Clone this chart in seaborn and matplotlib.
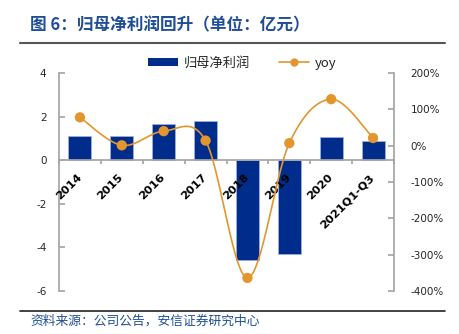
import numpy as np
import pandas as pd
import matplotlib
matplotlib.use("Agg")
import matplotlib.pyplot as plt
import matplotlib.transforms as mtransforms
from matplotlib.lines import Line2D
from matplotlib.patches import Patch
import seaborn as sns

# ---- data ----
categories = ["2014", "2015", "2016", "2017", "2018", "2019", "2020", "2021Q1-Q3"]
profit = [1.12, 1.12, 1.64, 1.80, -4.56, -4.30, 1.08, 0.90]      # 亿元
yoy = [78, 1, 40, 14, -364, 7, 128, 21]                           # %
left_ticks = [-6, -4, -2, 0, 2, 4]
right_ticks = [-400, -300, -200, -100, 0, 100, 200]

title = "图 6：归母净利润回升（单位：亿元）"
source = "资料来源：公司公告，安信证券研究中心"
bar_label = "归母净利润"
line_label = "yoy"

BAR = "#002D8C"
LINE = "#E3962E"
BLUE_TXT = "#1F4E96"
SPINE = "#A6A6A6"

sns.set_theme(style="white")
plt.rcParams["font.family"] = ["Noto Sans CJK SC", "DejaVu Sans"]

fig = plt.figure(figsize=(4.6, 3.34), dpi=100)
ax = fig.add_axes([59 / 460, 1 - 291 / 334, (394 - 59) / 460, (291 - 73) / 334])
ax.set_facecolor("none")

df = pd.DataFrame({"cat": categories, "profit": profit})
sns.barplot(data=df, x="cat", y="profit", color=BAR, width=0.55,
            edgecolor="#9DB0DA", linewidth=0.6, saturation=1, ax=ax)
ax.set_xlim(-0.5, len(categories) - 0.5)
ax.set_ylim(-6, 4)
ax.set_yticks(left_ticks)
ax.set_yticklabels([str(t) for t in left_ticks], fontsize=7.5, family="DejaVu Sans")
ax.set_xlabel("")
ax.set_ylabel("")

for s in ["top", "right"]:
    ax.spines[s].set_visible(False)
ax.spines["left"].set_color(SPINE)
ax.spines["bottom"].set_color(SPINE)
ax.spines["bottom"].set_position(("data", 0))
ax.tick_params(axis="y", direction="in", length=4, color=SPINE, pad=9, left=True)
ax.set_xticks(np.arange(len(categories) + 1) - 0.5)
ax.set_xticklabels([])
ax.tick_params(axis="x", direction="out", length=3, color=SPINE, bottom=True)

# category labels at zero line
off = mtransforms.offset_copy(ax.transData, fig=fig, x=3.5, y=-12, units="dots")
for i, c in enumerate(categories):
    ax.text(i, 0, c, rotation=45, ha="right", va="top", transform=off,
            fontsize=8.2, fontweight="bold", family="DejaVu Sans", color="black")

# secondary axis
ax2 = ax.twinx()
ax2.set_ylim(-400, 200)
ax2.set_xlim(-0.5, len(categories) - 0.5)
ax2.set_yticks(right_ticks)
ax2.set_yticklabels([f"{t}%" for t in right_ticks], fontsize=7.5, family="DejaVu Sans")
for s in ["top", "bottom", "left"]:
    ax2.spines[s].set_visible(False)
ax2.spines["right"].set_color(SPINE)
ax2.tick_params(axis="y", direction="in", length=4, color=SPINE, pad=12, right=True)
ax2.grid(False)
ax.grid(False)

# smoothed line (Excel-like Catmull-Rom bezier through the points)
xs = np.arange(len(yoy), dtype=float)
ys = np.array(yoy, dtype=float)
P = np.column_stack([xs, ys])
curve = []
t = np.linspace(0, 1, 40)
for i in range(len(P) - 1):
    p0 = P[i - 1] if i > 0 else P[i]
    p1, p2 = P[i], P[i + 1]
    p3 = P[i + 2] if i + 2 < len(P) else P[i + 1]
    c1 = p1 + (p2 - p0) / 6
    c2 = p2 - (p3 - p1) / 6
    seg = ((1 - t) ** 3)[:, None] * p1 + (3 * (1 - t) ** 2 * t)[:, None] * c1 \
        + (3 * (1 - t) * t ** 2)[:, None] * c2 + (t ** 3)[:, None] * p2
    curve.append(seg)
curve = np.vstack(curve)
ax2.plot(curve[:, 0], curve[:, 1], color=LINE, lw=1.2, zorder=3)
sns.scatterplot(x=xs, y=ys, color=LINE, s=55, edgecolor="none", ax=ax2, zorder=4)

# legend
handles = [Patch(facecolor=BAR, edgecolor="none"),
           Line2D([0], [0], color=LINE, lw=1.2, marker="o", markersize=5)]
fig.legend(handles, [bar_label, line_label], loc="center", ncol=2,
           bbox_to_anchor=(242 / 460, 1 - 63 / 334), frameon=False,
           fontsize=9.5, handlelength=2.3, handleheight=0.5, columnspacing=2.2,
           handletextpad=0.4)

# title, rules, source
fig.text(30 / 460, 1 - 25 / 334, title, fontsize=12, fontweight="bold",
         color=BLUE_TXT, va="center", ha="left")
fig.add_artist(Line2D([20 / 460, 445 / 460], [1 - 43 / 334] * 2, color="#555555", lw=1.5))
fig.add_artist(Line2D([20 / 460, 445 / 460], [1 - 311 / 334] * 2, color="#222222", lw=1.2))
fig.text(30 / 460, 1 - 321 / 334, source, fontsize=9.2, color=BLUE_TXT,
         va="center", ha="left", style="italic")

fig.savefig("out.png", dpi=100)
